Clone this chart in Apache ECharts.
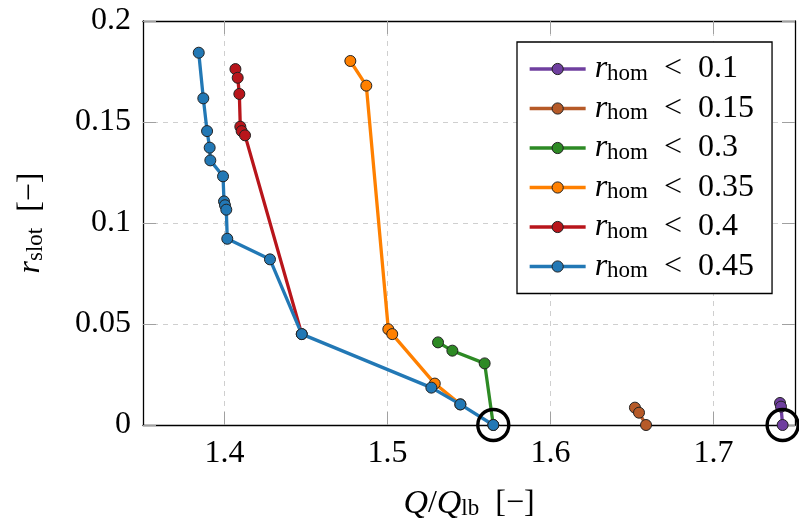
<!DOCTYPE html>
<html>
<head>
<meta charset="utf-8">
<script src="https://cdn.jsdelivr.net/npm/echarts@6/dist/echarts.min.js"></script>
<style>html,body{margin:0;padding:0;background:#fff}#c{width:799px;height:531px}</style>
</head>
<body>
<div id="c"></div>
<script>
// ---- data ----
const seriesNames = ['r_hom < 0.1', 'r_hom < 0.15', 'r_hom < 0.3', 'r_hom < 0.35', 'r_hom < 0.4', 'r_hom < 0.45'];
const seriesLabels = ['0.1', '0.15', '0.3', '0.35', '0.4', '0.45'];
const purpleX = [1.7408, 1.7414, 1.7424];
const purpleY = [0.0109, 0.0091, 0];
const brownX = [1.6518, 1.6543, 1.6586];
const brownY = [0.0086, 0.0061, 0];
const greenX = [1.5310, 1.5398, 1.5596, 1.5649];
const greenY = [0.0409, 0.0368, 0.0305, 0];
const orangeX = [1.4772, 1.4870, 1.5005, 1.5029, 1.5290, 1.5447];
const orangeY = [0.1802, 0.1680, 0.0474, 0.0450, 0.0205, 0.0102];
const redX = [1.4067, 1.4081, 1.4091, 1.4097, 1.4105, 1.4126, 1.4474];
const redY = [0.1762, 0.1719, 0.1639, 0.1477, 0.1455, 0.1434, 0.0450];
const blueX = [1.3842, 1.3870, 1.3893, 1.3909, 1.3913, 1.3991, 1.3997, 1.4003, 1.4011, 1.4017, 1.4279, 1.4474, 1.5269, 1.5447, 1.5649];
const blueY = [0.1843, 0.1617, 0.1455, 0.1373, 0.1310, 0.1231, 0.1107, 0.1088, 0.1066, 0.0922, 0.0820, 0.0450, 0.0185, 0.0102, 0];
const highlightX = [1.5649, 1.7424];
const highlightY = [0, 0];
const xTicks = [1.4, 1.5, 1.6, 1.7];
const yTicks = [0, 0.05, 0.1, 0.15, 0.2];

// ---- styles ----
const colors = ['#6f3f9f', '#b65a28', '#2d8a24', '#ff8000', '#b8151b', '#2278b5'];
const FONT = 'Liberation Serif';
const FS = 32;
const rich = {
  i: { fontFamily: FONT, fontStyle: 'italic', fontSize: FS, lineHeight: FS, color: '#000' },
  n: { fontFamily: FONT, fontStyle: 'italic', fontSize: 34, lineHeight: FS, color: '#000' },
  s: { fontFamily: FONT, fontSize: 23, lineHeight: 12, verticalAlign: 'bottom', color: '#000' },
  t: { fontFamily: FONT, fontSize: FS, lineHeight: FS, color: '#000' }
};
const zip = (xs, ys) => xs.map((x, k) => [x, ys[k]]);
const allX = [purpleX, brownX, greenX, orangeX, redX, blueX];
const allY = [purpleY, brownY, greenY, orangeY, redY, blueY];

const series = seriesNames.map((n, k) => ({
  name: n,
  type: 'line',
  data: zip(allX[k], allY[k]),
  symbol: 'circle',
  symbolSize: 11,
  clip: false,
  color: colors[k],
  lineStyle: { color: colors[k], width: 3.3, opacity: 1 },
  itemStyle: { color: colors[k], borderColor: '#222', borderWidth: 1, opacity: 1 },
  emphasis: { disabled: true },
  z: 2 + k
}));
series.push({
  type: 'scatter',
  data: zip(highlightX, highlightY),
  symbol: 'circle',
  symbolSize: 31,
  clip: false,
  itemStyle: { color: 'rgba(0,0,0,0)', borderColor: '#000', borderWidth: 3.4, opacity: 1 },
  z: 20,
  silent: true
});

const tickStyle = { show: true, inside: true, length: 13, lineStyle: { color: '#a0a0a0', width: 1 } };
const axisLine = { show: true, onZero: false, lineStyle: { color: '#000', width: 1.3 } };
const split = { show: true, lineStyle: { color: '#cfcfcf', type: [5, 5], width: 1 } };

const chart = echarts.init(document.getElementById('c'), null, { renderer: 'canvas' });
chart.setOption({
  animation: false,
  backgroundColor: '#fff',
  grid: { left: 143, right: 4, top: 21, bottom: 106, containLabel: false },
  legend: {
    data: seriesNames,
    orient: 'vertical',
    left: 517,
    top: 42,
    padding: [11, 18, 11, 11],
    itemWidth: 56,
    itemHeight: 14,
    itemGap: 7.5,
    backgroundColor: '#fff',
    borderColor: '#000',
    borderWidth: 1.3,
    borderRadius: 0,
    z: 30,
    lineStyle: { width: 3.3 },
    itemStyle: { borderColor: '#222', borderWidth: 1 },
    formatter: (n) => '{i|r}{s|hom}{t|  <  ' + seriesLabels[seriesNames.indexOf(n)] + '}',
    textStyle: { rich: rich, padding: [0, 0, 0, 4] }
  },
  xAxis: [{
    type: 'value', min: 1.35, max: 1.75, position: 'bottom',
    axisLine: axisLine,
    axisTick: Object.assign({ customValues: xTicks }, tickStyle),
    axisLabel: { customValues: xTicks, margin: 13, fontFamily: FONT, fontSize: FS, color: '#000', formatter: v => String(+v.toFixed(2)) },
    splitLine: split,
    name: '{n|Q}{t|/}{n|Q}{s|lb}{t|  [−]}',
    nameLocation: 'middle', nameGap: 63,
    nameTextStyle: { rich: rich }
  }, {
    type: 'value', min: 1.35, max: 1.75, position: 'top',
    axisLine: axisLine,
    axisTick: Object.assign({ customValues: xTicks }, tickStyle),
    axisLabel: { show: false }, splitLine: { show: false }
  }],
  yAxis: [{
    type: 'value', min: 0, max: 0.2, interval: 0.05, position: 'left',
    axisLine: axisLine,
    axisTick: tickStyle,
    axisLabel: { margin: 12, fontFamily: FONT, fontSize: FS, color: '#000', formatter: v => String(+v.toFixed(2)) },
    splitLine: split,
    name: '{i|r}{s|slot}{t|  [−]}',
    nameLocation: 'middle', nameGap: 96, nameRotate: 90,
    nameTextStyle: { rich: rich }
  }, {
    type: 'value', min: 0, max: 0.2, interval: 0.05, position: 'right',
    axisLine: axisLine,
    axisTick: tickStyle,
    axisLabel: { show: false }, splitLine: { show: false }
  }],
  series: series
});
</script>
</body>
</html>
